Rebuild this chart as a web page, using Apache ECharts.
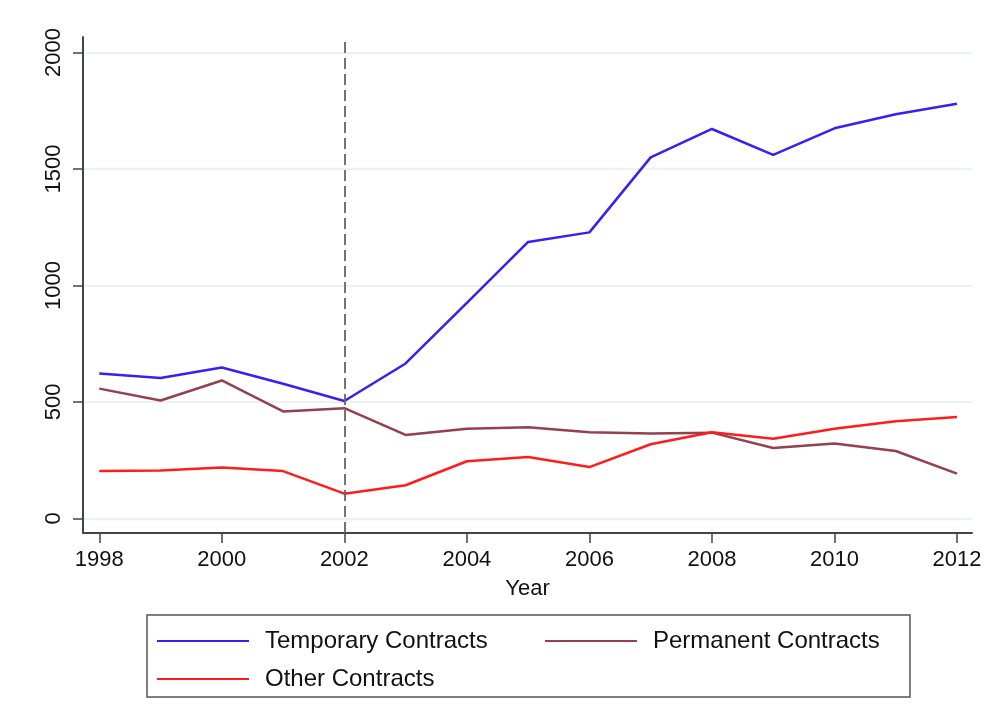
<!DOCTYPE html>
<html>
<head>
<meta charset="utf-8">
<script src="https://cdn.jsdelivr.net/npm/echarts@6/dist/echarts.min.js"></script>
<style>
  html, body { margin: 0; padding: 0; background: #fff; }
  #chart { width: 992px; height: 723px; }
</style>
</head>
<body>
<div id="chart"></div>
<script>
var years = [1998, 1999, 2000, 2001, 2002, 2003, 2004, 2005, 2006, 2007, 2008, 2009, 2010, 2011, 2012]
var temporary = [622, 603, 648, 578, 504, 665, 925, 1187, 1228, 1550, 1672, 1561, 1675, 1735, 1780]
var permanent = [557, 506, 592, 459, 473, 358, 385, 391, 370, 364, 368, 302, 321, 289, 192]
var other = [203, 205, 218, 203, 106, 142, 245, 263, 220, 318, 370, 342, 385, 417, 435]
var xTicks = [1998, 2000, 2002, 2004, 2006, 2008, 2010, 2012]
var yTicks = [0, 500, 1000, 1500, 2000]
var reformYear = 2002

function pairs (vals) {
  var d = []
  for (var i = 0; i < years.length; i++) {
    d.push([years[i], vals[i]])
  }
  return d
}

function plain (v) {
  return String(v)
}

var font = 'Liberation Sans, Arial, Helvetica, sans-serif'

var option = {
  animation: false,
  backgroundColor: '#fff',
  grid: { left: 83, right: 20, top: 37, bottom: 190 },
  xAxis: {
    type: 'value',
    min: 1997.734,
    max: 2012.245,
    name: 'Year',
    nameLocation: 'middle',
    nameGap: 45,
    nameTextStyle: { fontFamily: font, fontSize: 22, color: '#111' },
    axisLine: { onZero: false, lineStyle: { color: '#444', width: 2 } },
    axisTick: { length: 10, customValues: xTicks, lineStyle: { color: '#444', width: 1.5 } },
    axisLabel: { customValues: xTicks, formatter: plain, margin: 16, fontFamily: font, fontSize: 22, color: '#111' },
    splitLine: { show: false }
  },
  yAxis: {
    type: 'value',
    min: -63,
    max: 2067,
    axisLine: { show: true, onZero: false, lineStyle: { color: '#444', width: 2 } },
    axisTick: { show: true, length: 10, customValues: yTicks, lineStyle: { color: '#444', width: 1.5 } },
    axisLabel: { customValues: yTicks, formatter: plain, rotate: 90, margin: 18, fontFamily: font, fontSize: 22, color: '#111' },
    splitLine: { show: true, lineStyle: { color: '#e3eef2', width: 1.5 } }
  },
  legend: {
    left: 147,
    top: 615,
    orient: 'horizontal',
    width: 760,
    padding: [14, 7, 6, 10],
    borderColor: '#555',
    borderWidth: 1.5,
    borderRadius: 0,
    itemWidth: 92,
    itemHeight: 2,
    itemGap: 14,
    icon: 'rect',
    textStyle: { fontFamily: font, fontSize: 24, color: '#111', lineHeight: 22, padding: [0, 0, 0, 11], width: 266 },
    data: [
      { name: 'Temporary Contracts' },
      { name: 'Permanent Contracts', textStyle: { width: 250 } },
      { name: 'Other Contracts' }
    ]
  },
  series: [
    {
      name: 'Temporary Contracts',
      type: 'line',
      data: pairs(temporary),
      showSymbol: false,
      color: '#3a1ef5',
      lineStyle: { width: 2.5 },
      markLine: {
        silent: true,
        symbol: 'none',
        label: { show: false },
        lineStyle: { color: '#666', width: 1.8, type: [11, 5] },
        data: [{ xAxis: reformYear }]
      }
    },
    {
      name: 'Permanent Contracts',
      type: 'line',
      data: pairs(permanent),
      showSymbol: false,
      color: '#93404f',
      lineStyle: { width: 2.5 }
    },
    {
      name: 'Other Contracts',
      type: 'line',
      data: pairs(other),
      showSymbol: false,
      color: '#ff1c1c',
      lineStyle: { width: 2.5 }
    }
  ]
}

var myChart = echarts.init(document.getElementById('chart'))
myChart.setOption(option)
</script>
</body>
</html>
